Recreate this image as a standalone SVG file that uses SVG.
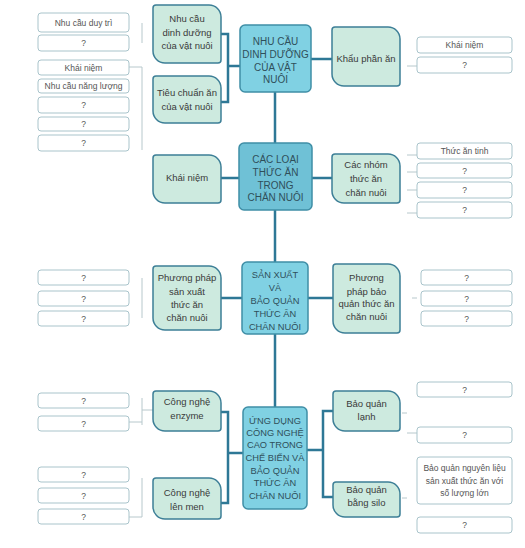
<svg xmlns="http://www.w3.org/2000/svg" width="525" height="548" viewBox="0 0 525 548">
<style>
.main{fill:#80d1e3;stroke:#3f8ea6;stroke-width:1.5}
.main2{fill:#6fc1d6;stroke:#3f8ea6;stroke-width:1.5}
.mt{font-family:"Liberation Sans",Arial,sans-serif;font-size:10px;fill:#2f4f5a;text-anchor:middle}
.mt2{font-family:"Liberation Sans",Arial,sans-serif;font-size:9.3px;fill:#2f4f5a;text-anchor:middle}
.sub{fill:#cdeadf;stroke:#3d7f97;stroke-width:1.5}
.st{font-family:"Liberation Sans",Arial,sans-serif;font-size:9.5px;fill:#3a3a3a;text-anchor:middle}
.leaf{fill:#ffffff;stroke:#a9c4cb;stroke-width:1}
.lt{font-family:"Liberation Sans",Arial,sans-serif;font-size:8.5px;fill:#555;text-anchor:middle}
.con{fill:none;stroke:#2e7896;stroke-width:2.5}
.faint{fill:none;stroke:#b7c8cc;stroke-width:1}
</style>
<g id="connectors">
<path class="con" d="M275,92 V143 M275,210 V262 M275,334 V407"/>
<path class="con" d="M221,34 H228 V102 H221 M228,66 H240"/>
<path class="con" d="M311,59 H332"/>
<path class="con" d="M221,178 H239 M312,178 H332"/>
<path class="con" d="M221,298 H242 M308,298 H333"/>
<path class="con" d="M221,412 H228 V503 H221 M228,453 H243"/>
<path class="con" d="M333,411 H323 V497 H333 M307,450 H323"/>
<path class="faint" d="M142,23 V43 M129,67 H142 V150"/>
<path class="faint" d="M407,66 H417"/>
<path class="faint" d="M407,155 H417 M407,172 H417 M407,190 H417 M407,213 H417"/>
<path class="faint" d="M142,278 V318"/>
<path class="faint" d="M412,298 H417"/>
<path class="faint" d="M142,398 V425 M142,410 H153 M129,422 H142"/>
<path class="faint" d="M142,478 V517 M129,517 H142"/>
<path class="faint" d="M402,413 H407 M407,433 H417 M402,498 H407"/>
</g>
<g id="n1"><rect class="main" x="240" y="25" width="71" height="67" rx="5"/>
<text class="mt"><tspan x="275.5" y="45">NHU CẦU</tspan><tspan x="275.5" y="58">DINH DƯỠNG</tspan><tspan x="275.5" y="71">CỦA VẬT</tspan><tspan x="275.5" y="83">NUÔI</tspan></text></g>
<g id="n2"><rect class="main2" x="239" y="143" width="73" height="67" rx="5"/>
<text class="mt"><tspan x="275.5" y="163">CÁC LOẠI</tspan><tspan x="275.5" y="176">THỨC ĂN</tspan><tspan x="275.5" y="189">TRONG</tspan><tspan x="275.5" y="201">CHĂN NUÔI</tspan></text></g>
<g id="n3"><rect class="main" x="242" y="262" width="66" height="72" rx="5"/>
<text class="mt2"><tspan x="275" y="278">SẢN XUẤT</tspan><tspan x="275" y="291">VÀ</tspan><tspan x="275" y="304">BẢO QUẢN</tspan><tspan x="275" y="317">THỨC ĂN</tspan><tspan x="275" y="330">CHĂN NUÔI</tspan></text></g>
<g id="n4"><rect class="main" x="243" y="407" width="64" height="102" rx="5"/>
<text class="mt2"><tspan x="275" y="424">ỨNG DỤNG</tspan><tspan x="275" y="436">CÔNG NGHỆ</tspan><tspan x="275" y="448">CAO TRONG</tspan><tspan x="275" y="461">CHẾ BIẾN VÀ</tspan><tspan x="275" y="474">BẢO QUẢN</tspan><tspan x="275" y="486">THỨC ĂN</tspan><tspan x="275" y="499">CHĂN NUÔI</tspan></text></g>
<g id="s1"><path class="sub" d="M156,5 H209 A12,12 0 0 1 221,17 V60 A3,3 0 0 1 218,63 H165 A12,12 0 0 1 153,51 V8 A3,3 0 0 1 156,5 Z"/>
<text class="st"><tspan x="187" y="22">Nhu cầu</tspan><tspan x="187" y="36">dinh dưỡng</tspan><tspan x="187" y="49">của vật nuôi</tspan></text></g>
<g id="s2"><path class="sub" d="M156,76 H209 A12 12 0 0 1 221,88 V120 A3 3 0 0 1 218,123 H165 A12 12 0 0 1 153,111 V79 A3 3 0 0 1 156,76 Z"/>
<text class="st"><tspan x="187" y="96">Tiêu chuẩn ăn</tspan><tspan x="187" y="110">của vật nuôi</tspan></text></g>
<g id="s3"><path class="sub" d="M335,27 H388 A12 12 0 0 1 400,39 V83 A3 3 0 0 1 397,86 H344 A12 12 0 0 1 332,74 V30 A3 3 0 0 1 335,27 Z"/>
<text class="st"><tspan x="366" y="62">Khẩu phần ăn</tspan></text></g>
<g id="s4"><path class="sub" d="M156,155 H209 A12 12 0 0 1 221,167 V200 A3 3 0 0 1 218,203 H165 A12 12 0 0 1 153,191 V158 A3 3 0 0 1 156,155 Z"/>
<text class="st"><tspan x="187" y="181">Khái niệm</tspan></text></g>
<g id="s5"><path class="sub" d="M335,154 H388 A12 12 0 0 1 400,166 V200 A3 3 0 0 1 397,203 H344 A12 12 0 0 1 332,191 V157 A3 3 0 0 1 335,154 Z"/>
<text class="st"><tspan x="366" y="168">Các nhóm</tspan><tspan x="366" y="182">thức ăn</tspan><tspan x="366" y="196">chăn nuôi</tspan></text></g>
<g id="s6"><path class="sub" d="M156,266 H209 A12 12 0 0 1 221,278 V327 A3 3 0 0 1 218,330 H165 A12 12 0 0 1 153,318 V269 A3 3 0 0 1 156,266 Z"/>
<text class="st"><tspan x="187" y="281">Phương pháp</tspan><tspan x="187" y="295">sản xuất</tspan><tspan x="187" y="308">thức ăn</tspan><tspan x="187" y="321">chăn nuôi</tspan></text></g>
<g id="s7"><path class="sub" d="M336,264 H388 A12 12 0 0 1 400,276 V330 A3 3 0 0 1 397,333 H345 A12 12 0 0 1 333,321 V267 A3 3 0 0 1 336,264 Z"/>
<text class="st"><tspan x="366.5" y="281">Phương</tspan><tspan x="366.5" y="295">pháp bảo</tspan><tspan x="366.5" y="307">quản thức ăn</tspan><tspan x="366.5" y="320">chăn nuôi</tspan></text></g>
<g id="s8"><path class="sub" d="M156,391 H209 A12 12 0 0 1 221,403 V428 A3 3 0 0 1 218,431 H165 A12 12 0 0 1 153,419 V394 A3 3 0 0 1 156,391 Z"/>
<text class="st"><tspan x="187" y="405">Công nghệ</tspan><tspan x="187" y="419">enzyme</tspan></text></g>
<g id="s9"><path class="sub" d="M156,478 H209 A12 12 0 0 1 221,490 V516 A3 3 0 0 1 218,519 H165 A12 12 0 0 1 153,507 V481 A3 3 0 0 1 156,478 Z"/>
<text class="st"><tspan x="187" y="496">Công nghệ</tspan><tspan x="187" y="510">lên men</tspan></text></g>
<g id="s10"><path class="sub" d="M336,391 H388 A12 12 0 0 1 400,403 V428 A3 3 0 0 1 397,431 H345 A12 12 0 0 1 333,419 V394 A3 3 0 0 1 336,391 Z"/>
<text class="st"><tspan x="366.5" y="407">Bảo quản</tspan><tspan x="366.5" y="420">lạnh</tspan></text></g>
<g id="s11"><path class="sub" d="M336,482 H388 A12 12 0 0 1 400,494 V514 A3 3 0 0 1 397,517 H345 A12 12 0 0 1 333,505 V485 A3 3 0 0 1 336,482 Z"/>
<text class="st"><tspan x="366.5" y="493">Bảo quản</tspan><tspan x="366.5" y="506">bằng silo</tspan></text></g>
<g id="l1"><rect class="leaf" x="38" y="13" width="91" height="19" rx="3"/><text class="lt" x="83.5" y="25.5">Nhu cầu duy trì</text></g>
<g id="l2"><rect class="leaf" x="38" y="35" width="91" height="16" rx="3"/><text class="lt" x="83.5" y="46">?</text></g>
<g id="l3"><rect class="leaf" x="38" y="60" width="91" height="15" rx="3"/><text class="lt" x="83.5" y="70.5">Khái niệm</text></g>
<g id="l4"><rect class="leaf" x="38" y="79" width="91" height="14" rx="3"/><text class="lt" x="83.5" y="89">Nhu cầu năng lượng</text></g>
<g id="l5"><rect class="leaf" x="38" y="97" width="91" height="16" rx="3"/><text class="lt" x="83.5" y="108">?</text></g>
<g id="l6"><rect class="leaf" x="38" y="117" width="91" height="14" rx="3"/><text class="lt" x="83.5" y="127">?</text></g>
<g id="l7"><rect class="leaf" x="38" y="135" width="91" height="16" rx="3"/><text class="lt" x="83.5" y="146">?</text></g>
<g id="l8"><rect class="leaf" x="417" y="37" width="95" height="16" rx="3"/><text class="lt" x="464.5" y="48">Khái niệm</text></g>
<g id="l9"><rect class="leaf" x="417" y="57" width="95" height="16" rx="3"/><text class="lt" x="464.5" y="68">?</text></g>
<g id="l10"><rect class="leaf" x="417" y="143" width="95" height="16" rx="3"/><text class="lt" x="464.5" y="154">Thức ăn tinh</text></g>
<g id="l11"><rect class="leaf" x="417" y="163" width="95" height="15" rx="3"/><text class="lt" x="464.5" y="173.5">?</text></g>
<g id="l12"><rect class="leaf" x="417" y="182" width="95" height="16" rx="3"/><text class="lt" x="464.5" y="193">?</text></g>
<g id="l13"><rect class="leaf" x="417" y="202" width="95" height="16" rx="3"/><text class="lt" x="464.5" y="213">?</text></g>
<g id="l14"><rect class="leaf" x="38" y="270" width="91" height="15" rx="3"/><text class="lt" x="83.5" y="280.5">?</text></g>
<g id="l15"><rect class="leaf" x="38" y="291" width="91" height="15" rx="3"/><text class="lt" x="83.5" y="301.5">?</text></g>
<g id="l16"><rect class="leaf" x="38" y="311" width="91" height="15" rx="3"/><text class="lt" x="83.5" y="321.5">?</text></g>
<g id="l17"><rect class="leaf" x="421" y="270" width="91" height="15" rx="3"/><text class="lt" x="466.5" y="280.5">?</text></g>
<g id="l18"><rect class="leaf" x="421" y="291" width="91" height="15" rx="3"/><text class="lt" x="466.5" y="301.5">?</text></g>
<g id="l19"><rect class="leaf" x="421" y="311" width="91" height="15" rx="3"/><text class="lt" x="466.5" y="321.5">?</text></g>
<g id="l20"><rect class="leaf" x="38" y="393" width="91" height="15" rx="3"/><text class="lt" x="83.5" y="403.5">?</text></g>
<g id="l21"><rect class="leaf" x="38" y="416" width="91" height="15" rx="3"/><text class="lt" x="83.5" y="426.5">?</text></g>
<g id="l22"><rect class="leaf" x="38" y="467" width="91" height="15" rx="3"/><text class="lt" x="83.5" y="477.5">?</text></g>
<g id="l23"><rect class="leaf" x="38" y="488" width="91" height="15" rx="3"/><text class="lt" x="83.5" y="498.5">?</text></g>
<g id="l24"><rect class="leaf" x="38" y="509" width="91" height="15" rx="3"/><text class="lt" x="83.5" y="519.5">?</text></g>
<g id="l25"><rect class="leaf" x="417" y="382" width="95" height="15" rx="3"/><text class="lt" x="464.5" y="392.5">?</text></g>
<g id="l26"><rect class="leaf" x="417" y="427" width="95" height="16" rx="3"/><text class="lt" x="464.5" y="438">?</text></g>
<g id="l27"><rect class="leaf" x="417" y="457" width="95" height="47" rx="3"/><text class="lt"><tspan x="464.5" y="471">Bảo quản nguyên liệu</tspan><tspan x="464.5" y="484">sản xuất thức ăn với</tspan><tspan x="464.5" y="496">số lượng lớn</tspan></text></g>
<g id="l28"><rect class="leaf" x="417" y="517" width="95" height="16" rx="3"/><text class="lt" x="464.5" y="528">?</text></g>
</svg>
